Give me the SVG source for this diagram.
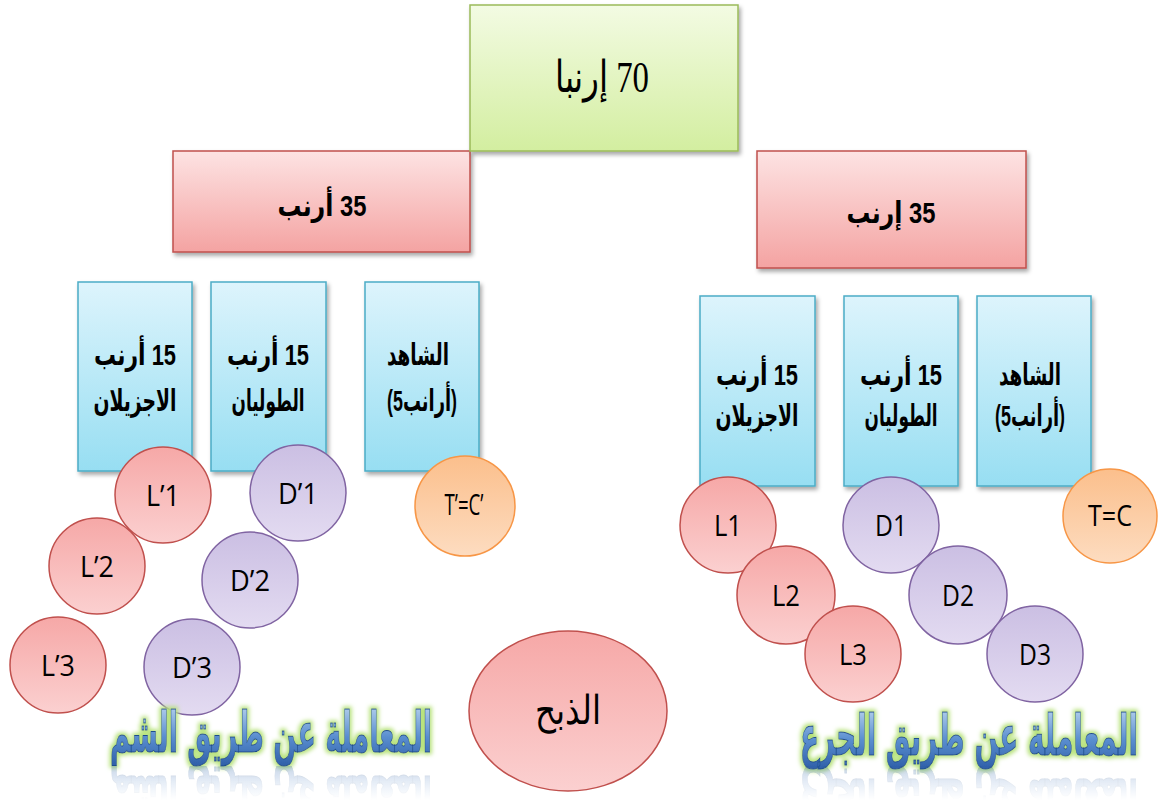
<svg xmlns="http://www.w3.org/2000/svg" width="1158" height="800" viewBox="0 0 1158 800">
<defs>
<linearGradient id="gGreen" x1="0" y1="0" x2="0" y2="1"><stop offset="0" stop-color="#f3fbe3"/><stop offset="1" stop-color="#d3eea0"/></linearGradient>
<linearGradient id="gPink" x1="0" y1="0" x2="0" y2="1"><stop offset="0" stop-color="#fde3e3"/><stop offset="1" stop-color="#f4a3a2"/></linearGradient>
<linearGradient id="gBlue" x1="0" y1="0" x2="0" y2="1"><stop offset="0" stop-color="#ddf4fc"/><stop offset="1" stop-color="#97def2"/></linearGradient>
<linearGradient id="gRed" x1="0" y1="0" x2="0" y2="1"><stop offset="0" stop-color="#f6a8a7"/><stop offset="1" stop-color="#fbd0d0"/></linearGradient>
<linearGradient id="gPurple" x1="0" y1="0" x2="0" y2="1"><stop offset="0" stop-color="#cbbfe3"/><stop offset="1" stop-color="#e3dbf1"/></linearGradient>
<linearGradient id="gOrange" x1="0" y1="0" x2="0" y2="1"><stop offset="0" stop-color="#fbbf8c"/><stop offset="1" stop-color="#fddcc0"/></linearGradient>
<linearGradient id="gTitle" x1="0" y1="0" x2="0" y2="1"><stop offset="0" stop-color="#c4dcf2"/><stop offset="0.55" stop-color="#5b8fd0"/><stop offset="1" stop-color="#2e5fa8"/></linearGradient>
<linearGradient id="gRefl" x1="0" y1="0" x2="0" y2="1"><stop offset="0" stop-color="#fff" stop-opacity="0.6"/><stop offset="1" stop-color="#fff" stop-opacity="0"/></linearGradient>
<mask id="mRefl" maskUnits="userSpaceOnUse" x="0" y="766" width="1158" height="34"><rect x="0" y="766" width="1158" height="34" fill="url(#gRefl)"/></mask>
<filter id="sh" x="-10%" y="-10%" width="130%" height="130%"><feDropShadow dx="2" dy="3" stdDeviation="2" flood-color="#000" flood-opacity="0.35"/></filter>
<filter id="glow" x="-10%" y="-20%" width="120%" height="140%"><feMorphology in="SourceAlpha" operator="dilate" radius="2" result="d"/><feGaussianBlur in="d" stdDeviation="2" result="b"/><feFlood flood-color="#b6e27a"/><feComposite in2="b" operator="in" result="g"/><feMerge><feMergeNode in="g"/><feMergeNode in="SourceGraphic"/></feMerge></filter>
<style>
.box{filter:url(#sh);stroke-width:1.5}
.green{fill:url(#gGreen);stroke:#9bbb59}
.pink{fill:url(#gPink);stroke:#c0504d}
.blue{fill:url(#gBlue);stroke:#4bacc6}
.cr{fill:url(#gRed);stroke:#c0504d;stroke-width:1.5}
.cp{fill:url(#gPurple);stroke:#8064a2;stroke-width:1.5}
.co{fill:url(#gOrange);stroke:#f79646;stroke-width:1.5}
.ar{font-family:"Liberation Sans","DejaVu Sans",sans-serif;font-weight:bold;font-size:30px;fill:#000;text-anchor:middle}
.lb{font-family:"Open Sans","Liberation Sans",sans-serif;font-size:29px;fill:#000;text-anchor:middle}
.tt{font-family:"DejaVu Sans",sans-serif;font-weight:bold;font-size:56px;text-anchor:middle;fill:url(#gTitle);stroke:#1f4e8c;stroke-width:1}
</style>
</defs>
<rect width="1158" height="800" fill="#fff"/>

<g id="n-left35"><rect class="box pink" x="173" y="151" width="297" height="101"/><text class="ar" x="322" y="216" font-size="37" direction="rtl" textLength="89" lengthAdjust="spacingAndGlyphs">35 أرنب</text></g>
<g id="n-right35"><rect class="box pink" x="757" y="151" width="269" height="117"/><text class="ar" x="891" y="223" font-size="37" direction="rtl" textLength="89" lengthAdjust="spacingAndGlyphs">35 إرنب</text></g>
<g id="n-root"><rect class="box green" x="470" y="5" width="268" height="146"/><text x="602" y="92" font-size="44" text-anchor="middle" direction="rtl" font-family="'Liberation Serif','DejaVu Serif',serif" textLength="94" lengthAdjust="spacingAndGlyphs">70 إرنبا</text></g>

<g id="n-lb1"><rect class="box blue" x="78" y="282" width="114" height="189"/><text class="ar" x="135" y="365" direction="rtl" textLength="82" lengthAdjust="spacingAndGlyphs">15 أرنب</text><text class="ar" x="135" y="411" textLength="83" lengthAdjust="spacingAndGlyphs">الاجزيلان</text></g>
<g id="n-lb2"><rect class="box blue" x="211" y="282" width="115" height="189"/><text class="ar" x="268" y="365" direction="rtl" textLength="82" lengthAdjust="spacingAndGlyphs">15 أرنب</text><text class="ar" x="268" y="411" textLength="73" lengthAdjust="spacingAndGlyphs">الطوليان</text></g>
<g id="n-lb3"><rect class="box blue" x="365" y="282" width="114" height="189"/><text class="ar" x="418" y="365" textLength="62" lengthAdjust="spacingAndGlyphs">الشاهد</text><text class="ar" x="422" y="411" textLength="70" lengthAdjust="spacingAndGlyphs">(5أرانب)</text></g>

<g id="n-rb1"><rect class="box blue" x="700" y="296" width="115" height="190"/><text class="ar" x="757" y="385" direction="rtl" textLength="82" lengthAdjust="spacingAndGlyphs">15 أرنب</text><text class="ar" x="757" y="426" textLength="83" lengthAdjust="spacingAndGlyphs">الاجزيلان</text></g>
<g id="n-rb2"><rect class="box blue" x="844" y="296" width="114" height="190"/><text class="ar" x="901" y="385" direction="rtl" textLength="82" lengthAdjust="spacingAndGlyphs">15 أرنب</text><text class="ar" x="901" y="426" textLength="73" lengthAdjust="spacingAndGlyphs">الطوليان</text></g>
<g id="n-rb3"><rect class="box blue" x="977" y="296" width="114" height="190"/><text class="ar" x="1030" y="385" textLength="62" lengthAdjust="spacingAndGlyphs">الشاهد</text><text class="ar" x="1030" y="426" textLength="70" lengthAdjust="spacingAndGlyphs">(5أرانب)</text></g>

<g id="connectors"></g>

<g id="n-L1p"><circle class="cr" cx="163" cy="495" r="48"/><text class="lb" x="163" y="506" textLength="34" lengthAdjust="spacingAndGlyphs">L’1</text></g>
<g id="n-L2p"><circle class="cr" cx="97" cy="566" r="48"/><text class="lb" x="97" y="577" textLength="34" lengthAdjust="spacingAndGlyphs">L’2</text></g>
<g id="n-L3p"><circle class="cr" cx="58" cy="665" r="48"/><text class="lb" x="58" y="676" textLength="34" lengthAdjust="spacingAndGlyphs">L’3</text></g>
<g id="n-D1p"><circle class="cp" cx="298" cy="493" r="48"/><text class="lb" x="298" y="504" textLength="40" lengthAdjust="spacingAndGlyphs">D’1</text></g>
<g id="n-D2p"><circle class="cp" cx="250" cy="580" r="48"/><text class="lb" x="250" y="591" textLength="40" lengthAdjust="spacingAndGlyphs">D’2</text></g>
<g id="n-D3p"><circle class="cp" cx="192" cy="667" r="48"/><text class="lb" x="192" y="678" textLength="40" lengthAdjust="spacingAndGlyphs">D’3</text></g>
<g id="n-TCp"><circle class="co" cx="465" cy="506" r="50"/><text class="lb" x="464" y="515" font-size="25" textLength="39" lengthAdjust="spacingAndGlyphs">T’=C’</text></g>

<g id="n-L1"><circle class="cr" cx="728" cy="525" r="48"/><text class="lb" x="728" y="536" textLength="28" lengthAdjust="spacingAndGlyphs">L1</text></g>
<g id="n-L2"><circle class="cr" cx="786" cy="595" r="49"/><text class="lb" x="786" y="606" textLength="28" lengthAdjust="spacingAndGlyphs">L2</text></g>
<g id="n-L3"><circle class="cr" cx="853" cy="654" r="48"/><text class="lb" x="853" y="665" textLength="28" lengthAdjust="spacingAndGlyphs">L3</text></g>
<g id="n-D1"><circle class="cp" cx="891" cy="525" r="48"/><text class="lb" x="891" y="536" textLength="32" lengthAdjust="spacingAndGlyphs">D1</text></g>
<g id="n-D2"><circle class="cp" cx="958" cy="595" r="49"/><text class="lb" x="958" y="606" textLength="32" lengthAdjust="spacingAndGlyphs">D2</text></g>
<g id="n-D3"><circle class="cp" cx="1035" cy="654" r="48"/><text class="lb" x="1035" y="665" textLength="32" lengthAdjust="spacingAndGlyphs">D3</text></g>
<g id="n-TC"><circle class="co" cx="1110" cy="516" r="47"/><text class="lb" x="1110" y="526" font-size="26" textLength="44" lengthAdjust="spacingAndGlyphs">T=C</text></g>

<g id="n-slaughter"><ellipse class="cr" cx="568" cy="711" rx="99" ry="80"/><text x="568" y="724" font-size="40" text-anchor="middle" font-family="'Liberation Serif','DejaVu Serif',serif" textLength="66" lengthAdjust="spacingAndGlyphs">الذبح</text></g>

<g id="t-left"><text class="tt" x="271" y="752" filter="url(#glow)" textLength="322" lengthAdjust="spacingAndGlyphs">المعاملة عن طريق الشم</text><g mask="url(#mRefl)"><text class="tt" x="271" y="-776" transform="scale(1,-1)" opacity="0.45" textLength="322" lengthAdjust="spacingAndGlyphs">المعاملة عن طريق الشم</text></g></g>
<g id="t-right"><text class="tt" x="969" y="755" filter="url(#glow)" textLength="338" lengthAdjust="spacingAndGlyphs">المعاملة عن طريق الجرع</text><g mask="url(#mRefl)"><text class="tt" x="969" y="-779" transform="scale(1,-1)" opacity="0.45" textLength="338" lengthAdjust="spacingAndGlyphs">المعاملة عن طريق الجرع</text></g></g>
</svg>
